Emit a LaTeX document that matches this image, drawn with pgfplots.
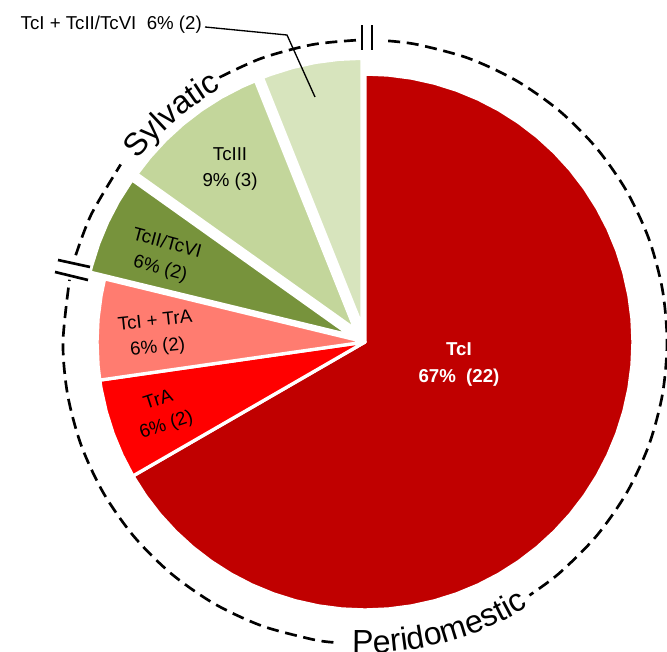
\documentclass[border=0pt]{standalone}
\usepackage{fontspec}
\setmainfont{Liberation Sans}
\usepackage{pgfplots}
\pgfplotsset{compat=1.18}
\usepgfplotslibrary{polar}
\usetikzlibrary{decorations.text}

\definecolor{tciRed}{HTML}{C00000}
\definecolor{traRed}{HTML}{FF0000}
\definecolor{mixRed}{HTML}{FF7C70}
\definecolor{oliveG}{HTML}{77933C}
\definecolor{midG}{HTML}{C3D69B}
\definecolor{paleG}{HTML}{D7E4BD}

\begin{document}
\begin{tikzpicture}
\begin{axis}[
    scale only axis,
    width=500.25pt, height=488.25pt,
    xmin=-1.36194, xmax=1.12687,
    ymin=-1.15299, ymax=1.27612,
    hide axis, clip=false, no markers,
]
\coordinate (bl) at (rel axis cs:0,0);
\coordinate (tr) at (rel axis cs:1,1);

% counts: TcI 22, TrA 2, TcI+TrA 2, TcII/TcVI 2, TcIII 3, TcI+TcII/TcVI 2 (total 33)
% polar input: (angle in degrees, radius)
\addplot[data cs=polar, fill=tciRed, draw=white, line width=2.5pt, line join=round] coordinates {
    (0,0) (90,1) (85,1) (80,1) (75,1) (70,1) (65,1) (60,1) (55,1) (50,1) (45,1)
    (40,1) (35,1) (30,1) (25,1) (20,1) (15,1) (10,1) (5,1) (0,1) (-5,1) (-10,1)
    (-15,1) (-20,1) (-25,1) (-30,1) (-35,1) (-40,1) (-45,1) (-50,1) (-55,1) (-60,1)
    (-65,1) (-70,1) (-75,1) (-80,1) (-85,1) (-90,1) (-95,1) (-100,1) (-105,1)
    (-110,1) (-115,1) (-120,1) (-125,1) (-130,1) (-135,1) (-140,1) (-145,1) (-150,1)
} -- cycle;
\addplot[data cs=polar, fill=traRed, draw=white, line width=2.5pt, line join=round] coordinates {
    (0,0) (210,1) (205,1) (200,1) (195,1) (190,1) (188.18,1)
} -- cycle;
\addplot[data cs=polar, fill=mixRed, draw=white, line width=2.5pt, line join=round] coordinates {
    (0,0) (188.18,1) (185,1) (180,1) (175,1) (170,1) (166.36,1)
} -- cycle;
\addplot[data cs=polar, fill=oliveG, draw=white, line width=2.5pt, line join=round,
    xshift=-10.92pt, yshift=4.99pt] coordinates {
    (0,0) (166.36,1) (165,1) (160,1) (155,1) (150,1) (145,1) (144.55,1)
} -- cycle;
\addplot[data cs=polar, fill=midG, draw=white, line width=2.5pt, line join=round,
    xshift=-7.42pt, yshift=9.43pt] coordinates {
    (0,0) (144.55,1) (140,1) (135,1) (130,1) (125,1) (120,1) (115,1) (111.82,1)
} -- cycle;
\addplot[data cs=polar, fill=paleG, draw=white, line width=2.5pt, line join=round,
    xshift=-2.27pt, yshift=11.78pt] coordinates {
    (0,0) (111.82,1) (110,1) (105,1) (100,1) (95,1) (90,1)
} -- cycle;

% dashed ring
\addplot[data cs=polar, black, line width=2pt, dash pattern=on 9pt off 5pt, smooth] coordinates {
    (85.6,1.1269) (80,1.1269) (70,1.1269) (60,1.1269) (50,1.1269) (40,1.1269) (30,1.1269)
    (20,1.1269) (10,1.1269) (0,1.1269) (-10,1.1269) (-20,1.1269) (-30,1.1269)
    (-40,1.1269) (-50,1.1269) (-57,1.1269)
};
\addplot[data cs=polar, black, line width=2pt, dash pattern=on 9pt off 5pt, smooth] coordinates {
    (-96,1.1269) (-100,1.1269) (-110,1.1269) (-120,1.1269) (-130,1.1269) (-140,1.1269)
    (-150,1.1269) (-160,1.1269) (-170,1.1269) (-180,1.1269) (-191.9,1.1269)
};
\addplot[data cs=polar, black, line width=2pt, dash pattern=on 9pt off 5pt, smooth] coordinates {
    (163.3,1.1269) (155,1.1269) (144,1.1269)
};
\addplot[data cs=polar, black, line width=2pt, dash pattern=on 9pt off 5pt, smooth] coordinates {
    (118.8,1.1269) (110,1.1269) (100,1.1269) (91.3,1.1269)
};

% break marks
\addplot[black, line width=2pt] coordinates {(-0.0112,1.1828) (-0.0112,1.0896)};
\addplot[black, line width=2pt] coordinates {(0.0261,1.1828) (0.0261,1.0896)};
\addplot[black, line width=2pt] coordinates {(-1.1455,0.3060) (-1.0261,0.2799)};
\addplot[black, line width=2pt] coordinates {(-1.1567,0.2612) (-1.0336,0.2313)};

% leader line for the small slice
\addplot[black, line width=1pt] coordinates {(-0.5970,1.1754) (-0.2910,1.1455) (-0.1866,0.9142)};
\node[anchor=east, inner sep=0pt, font=\fontsize{14}{16}\selectfont]
    at (axis cs:-0.6082,1.1828) {TcI + TcII/TcVI\ \ 6\% (2)};

% ring labels
\path[decorate, decoration={text along path, text align=center,
    text={|\fontsize{24}{24}\selectfont|Sylvatic}}]
    (axis cs:-1.0203,0.3714) arc[start angle=160, end angle=100.8, radius=218.25pt];
\path[decorate, decoration={text along path, text align=center,
    text={|\fontsize{24}{24}\selectfont|Peridomestic}}]
    (axis cs:-0.3072,-1.1190) arc[start angle=-105.35, end angle=-45.35, radius=233.25pt];

% slice labels
\node[align=center, text=white, font=\fontsize{14}{20}\selectfont\bfseries]
    at (axis cs:0.3507,-0.084) {TcI\\67\%\ \ (22)};
\node[align=center, rotate=18, font=\fontsize{14}{19.5}\selectfont]
    at (axis cs:-0.7556,-0.2668) {TrA\\6\% (2)};
\node[align=center, rotate=6, font=\fontsize{14}{19.5}\selectfont]
    at (axis cs:-0.778,0.0261) {TcI + TrA\\6\% (2)};
\node[align=center, rotate=-15, font=\fontsize{14}{19.5}\selectfont]
    at (axis cs:-0.7519,0.319) {TcII/TcVI\\6\% (2)};
\node[align=center, font=\fontsize{14}{19.5}\selectfont]
    at (axis cs:-0.5037,0.6437) {TcIII\\9\% (3)};
\end{axis}
\pgfresetboundingbox
\path (bl) rectangle (tr);
\end{tikzpicture}
\end{document}
